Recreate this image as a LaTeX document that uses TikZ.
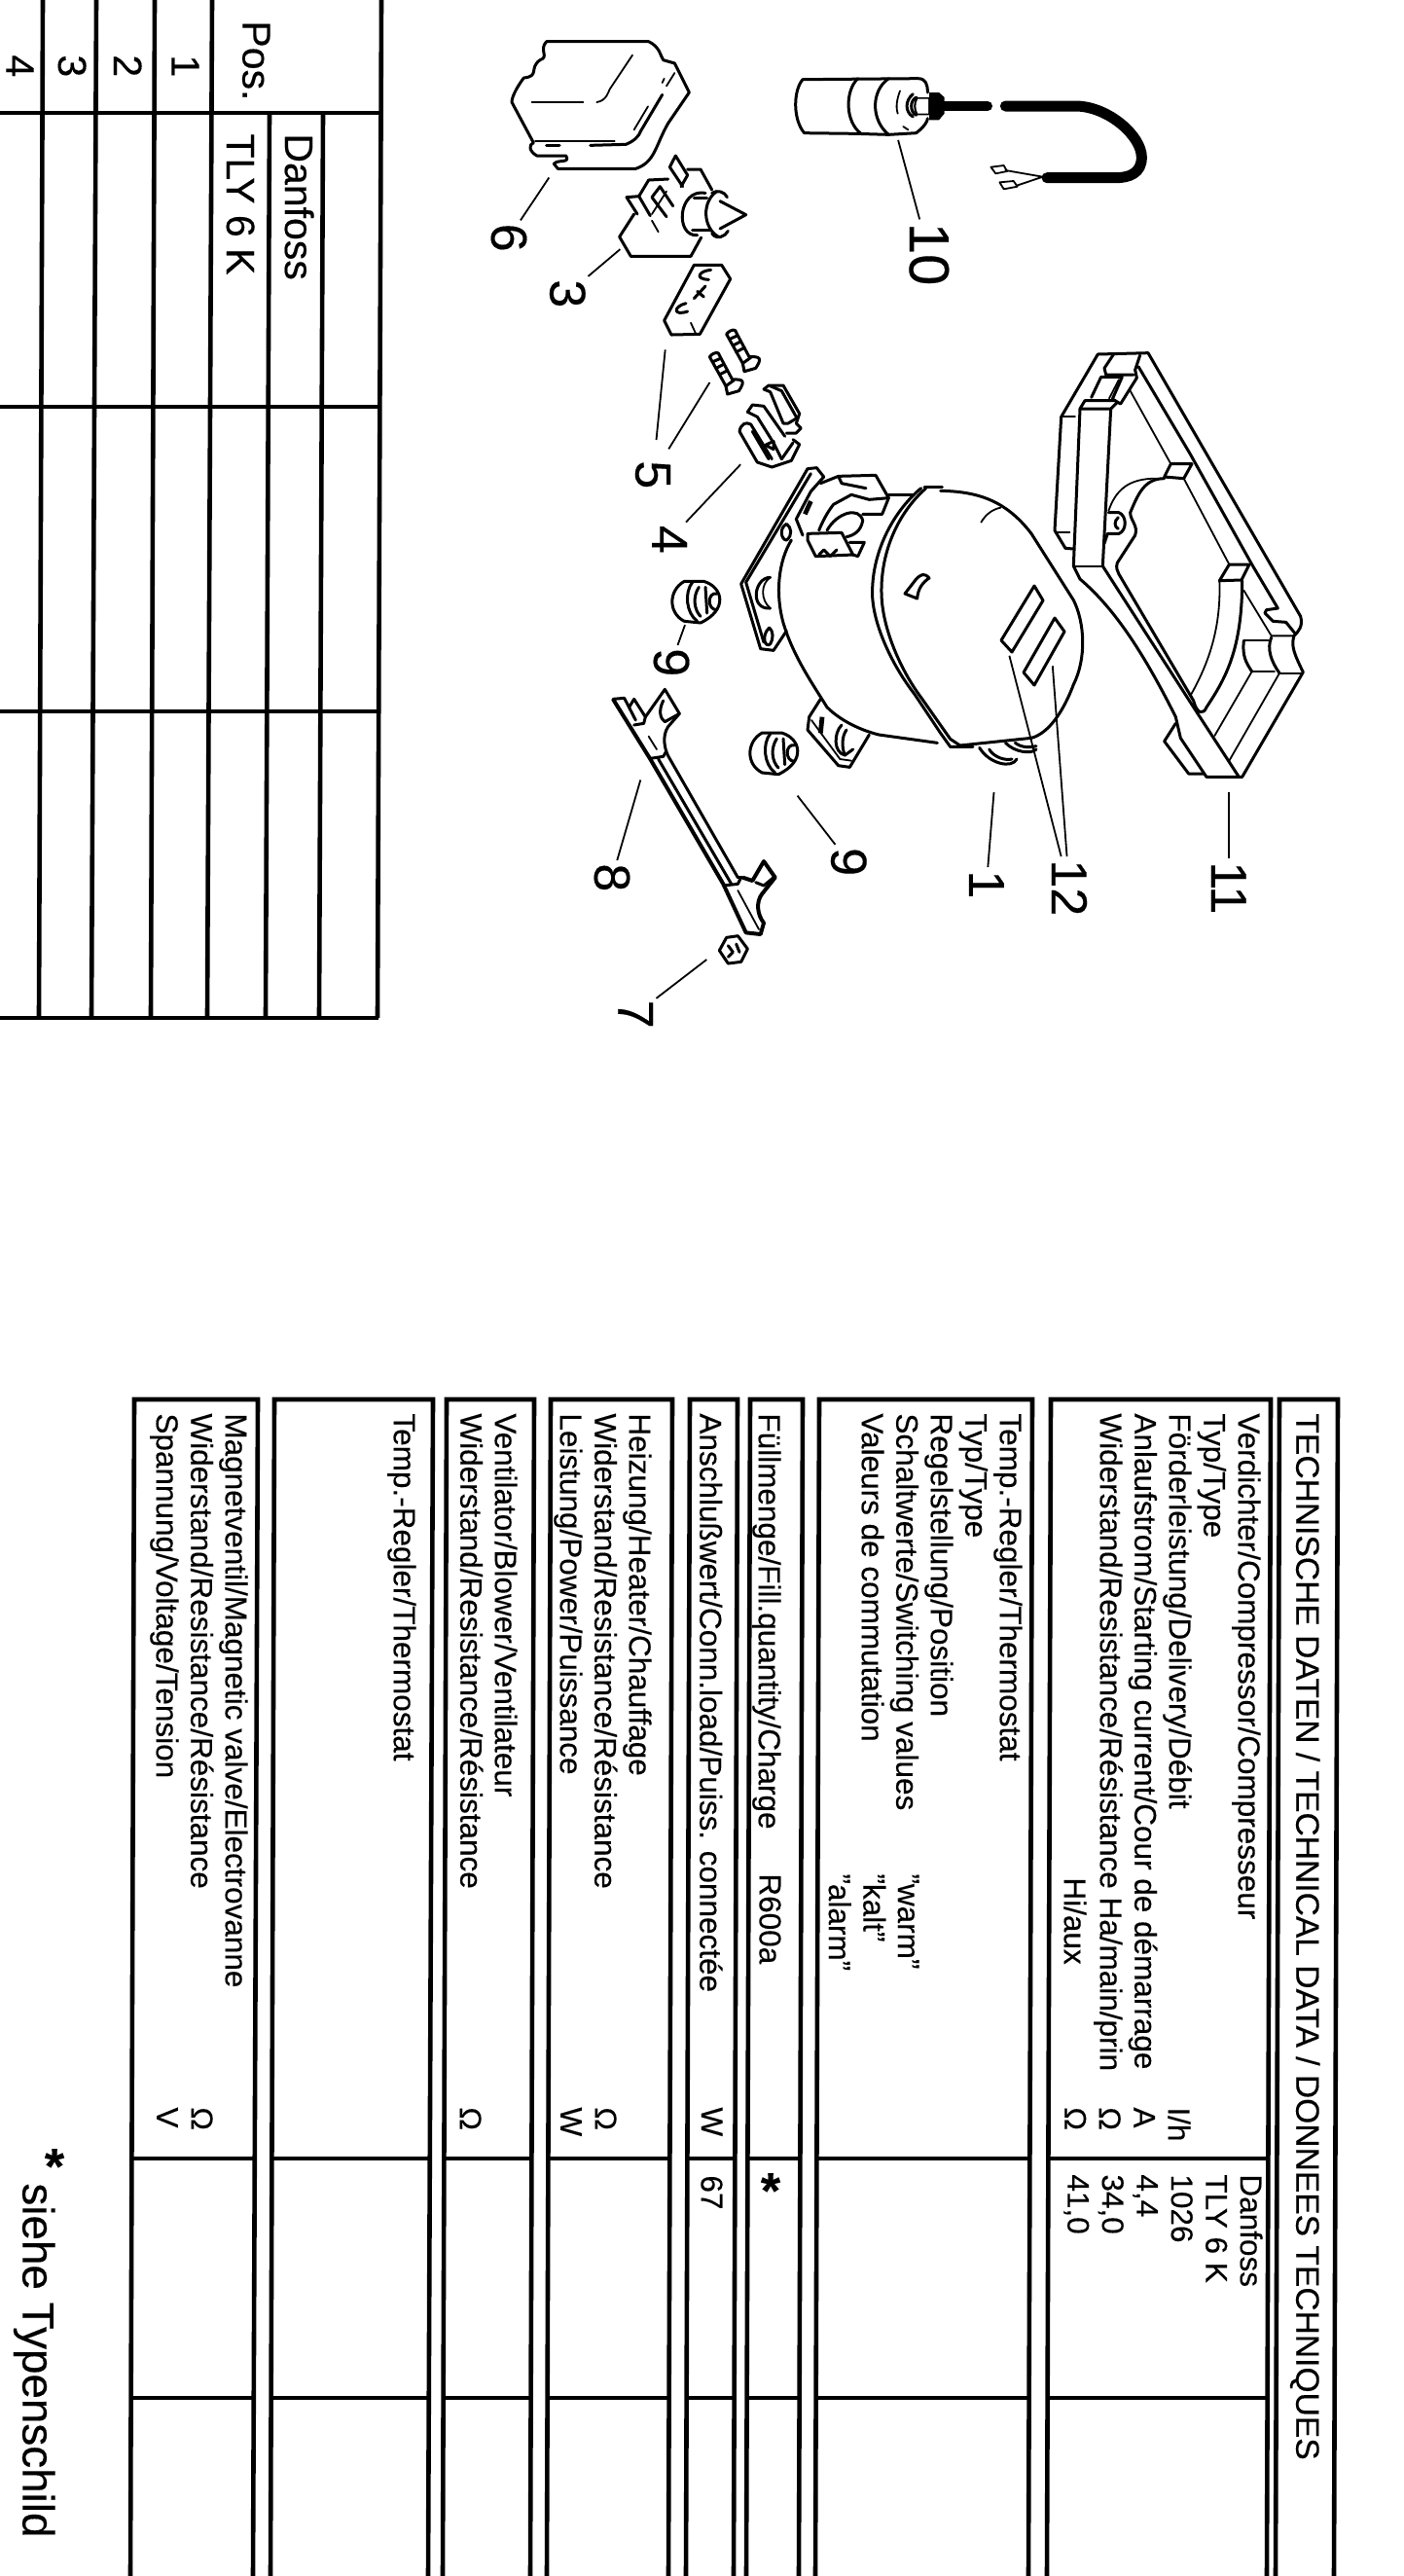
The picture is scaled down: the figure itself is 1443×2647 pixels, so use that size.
\documentclass[tikz,border=0pt]{standalone}
\usepackage{fontspec}
\setmainfont{Liberation Sans}[FakeBold=0.3]
\tikzstyle{rowline}=[line width=2.3pt]
\tikzstyle{crossline}=[line width=1.9pt]
\tikzstyle{partline}=[line width=1.5pt,line join=round,line cap=round]
\tikzstyle{thinline}=[line width=0.9pt,line join=round,line cap=round]
\tikzstyle{cable}=[line width=5.5pt,line cap=round]
\tikzstyle{leader}=[line width=0.9pt]
\tikzstyle{cropunit}=[x=0.16667pt,y=-0.16667pt]
\tikzstyle{celltext}=[rotate=-90,anchor=north west,align=left,inner sep=0pt,font=\fontsize{15.75}{17.75}\selectfont]
\tikzstyle{headtext}=[rotate=-90,anchor=north west,inner sep=0pt,font=\fontsize{16.8}{19}\selectfont]
\tikzstyle{postext}=[rotate=-90,anchor=north west,inner sep=0pt,font=\fontsize{20.5}{24}\selectfont]
\tikzstyle{partnum}=[rotate=-90,inner sep=1.5pt,font=\fontsize{26}{28}\selectfont]
\tikzstyle{starmark}=[inner sep=0pt,font=\bfseries\fontsize{26}{28}\selectfont]
\newcommand{\grommetshape}{
\draw[partline] (-35,-63) -- (25,-63) .. controls (85,-45) and (100,25) .. (15,65) -- (-35,60) .. controls (-85,35) and (-85,-35) .. (-35,-63) -- cycle;
\draw[partline] (-10,-60) .. controls (-35,-30) and (-30,35) .. (5,60);
\draw[partline] (10,-45) .. controls (-10,-15) and (-5,25) .. (15,45);
\draw[partline] (30,-45) -- (35,35);
\draw[partline] (65,-25) .. controls (35,-30) and (35,25) .. (65,25);
}
\newcommand{\screwshape}{
\draw[partline] (-15,10) .. controls (0,-8) and (15,-5) .. (15,5) -- (55,80) .. controls (90,78) and (95,85) .. (75,115) -- (40,125) -- (35,100) -- cycle;
\draw[partline] (-5,25) -- (18,15);
\draw[partline] (5,45) -- (28,33);
\draw[partline] (15,65) -- (40,52);
\draw[partline] (35,100) -- (60,82);
}

\begin{document}
\begin{tikzpicture}[x=0.5pt,y=-0.5pt]
\useasboundingbox (0,0) rectangle (1443,2647);

% position table
\draw[rowline] (40,1046) -- (44,0);
\draw[rowline] (94,1046) -- (99,0);
\draw[rowline] (155,1046) -- (159,0);
\draw[rowline] (213,1046) -- (218,0);
\draw[rowline] (273,1046) -- (277,116);
\draw[rowline] (328,1046) -- (332,116);
\draw[rowline] (388,1046) -- (392,0);
\draw[crossline] (0,116) -- (392,116);
\draw[crossline] (0,418) -- (391,418);
\draw[crossline] (0,731) -- (390,731);
\draw[crossline] (0,1046) -- (389,1046);
\node (pos) [postext] at (278,21) {Pos.};
\node (posa) [postext] at (205,56) {1};
\node (posb) [postext] at (146,56) {2};
\node (posc) [postext] at (89,56) {3};
\node (posd) [postext] at (35,56) {4};
\node (make) [postext] at (323,137) {Danfoss};
\node (type) [postext] at (262,137) {TLY 6 K};

% data table panels
\draw[rowline] (134,2650) -- (138,1438) -- (265,1438) -- (260,2650);
\draw[rowline] (278,2650) -- (282,1438) -- (445,1438) -- (440,2650);
\draw[rowline] (455,2650) -- (459,1438) -- (549,1438) -- (545,2650);
\draw[rowline] (562,2650) -- (566,1438) -- (691,1438) -- (687,2650);
\draw[rowline] (705,2650) -- (709,1438) -- (758,1438) -- (754,2650);
\draw[rowline] (767,2650) -- (771,1438) -- (825,1438) -- (821,2650);
\draw[rowline] (838,2650) -- (842,1438) -- (1061,1438) -- (1057,2650);
\draw[rowline] (1076,2650) -- (1080,1438) -- (1306,1438) -- (1302,2650);
\draw[rowline] (1311,2650) -- (1315,1438) -- (1375,1438) -- (1371,2650);
\draw[crossline] (136,2218) -- (262,2218);
\draw[crossline] (135,2464) -- (261,2464);
\draw[crossline] (280,2218) -- (442,2218);
\draw[crossline] (279,2464) -- (441,2464);
\draw[crossline] (457,2218) -- (547,2218);
\draw[crossline] (456,2464) -- (546,2464);
\draw[crossline] (564,2218) -- (689,2218);
\draw[crossline] (563,2464) -- (688,2464);
\draw[crossline] (707,2218) -- (756,2218);
\draw[crossline] (706,2464) -- (755,2464);
\draw[crossline] (769,2218) -- (823,2218);
\draw[crossline] (768,2464) -- (822,2464);
\draw[crossline] (840,2218) -- (1059,2218);
\draw[crossline] (839,2464) -- (1058,2464);
\draw[crossline] (1078,2218) -- (1304,2218);
\draw[crossline] (1077,2464) -- (1303,2464);

% data table text
\node (head) [headtext] at (1357,1452) {TECHNISCHE DATEN / TECHNICAL DATA / DONNEES TECHNIQUES};
\node (comp) [celltext] at (1296,1452) {Verdichter/Compressor/Compresseur\\Typ/Type\\Förderleistung/Delivery/Débit\\Anlaufstrom/Starting current/Cour de démarrage\\Widerstand/Resistance/Résistance Ha/main/prin};
\node (compaux) [celltext] at (1117,1929) {Hi/aux};
\node (compunit) [celltext] at (1224,2165) {I/h\\A\\Ω\\Ω};
\node (compval) [celltext] at (1298,2234) {Danfoss\\TLY 6 K\\1026\\4,4\\34,0\\41,0};
\node (stat) [celltext] at (1051,1452) {Temp.-Regler/Thermostat\\Typ/Type\\Regelstellung/Position\\Schaltwerte/Switching values\\Valeurs de commutation};
\node (statval) [celltext] at (945,1925) {"warm"\\"kalt"\\"alarm"};
\node (fill) [celltext] at (803,1452) {Füllmenge/Fill.quantity/Charge};
\node (gas) [celltext] at (803,1925) {R600a};
\node (gasval) [starmark] at (792,2251) {*};
\node (load) [celltext] at (743,1452) {Anschlußwert/Conn.load/Puiss. connectée};
\node (loadunit) [celltext] at (743,2165) {W};
\node (loadval) [celltext] at (743,2235) {67};
\node (heat) [celltext] at (670,1452) {Heizung/Heater/Chauffage\\Widerstand/Resistance/Résistance\\Leistung/Power/Puissance};
\node (heatunit) [celltext] at (634,2165) {Ω\\W};
\node (fan) [celltext] at (532,1452) {Ventilator/Blower/Ventilateur\\Widerstand/Resistance/Résistance};
\node (fanunit) [celltext] at (495,2165) {Ω};
\node (stattwo) [celltext] at (428,1452) {Temp.-Regler/Thermostat};
\node (valve) [celltext] at (255,1452) {Magnetventil/Magnetic valve/Electrovanne\\Widerstand/Resistance/Résistance\\Spannung/Voltage/Tension};
\node (valveunit) [celltext] at (219,2165) {Ω\\V};
\node (notestar) [starmark] at (56,2226) {*};
\node (note) [rotate=-90,anchor=north west,inner sep=0pt,font=\fontsize{22.9}{26}\selectfont] at (57,2243) {siehe Typenschild};

% capacitor
\begin{scope}[shift={(800,50)},cropunit]
\draw[partline] (460,135) .. controls (460,110) and (455,92) .. (430,92) -- (75,95) .. controls (45,130) and (45,220) .. (80,260) -- (240,262) -- (340,265) -- (425,260) .. controls (450,240) and (460,225) .. (460,215);
\draw[partline] (245,92) .. controls (205,130) and (205,225) .. (255,262);
\draw[partline] (340,92) .. controls (285,130) and (285,220) .. (340,265);
\draw[thinline] (375,130) .. controls (360,170) and (365,190) .. (368,200);
\draw[thinline] (385,240) -- (400,250);
\draw[partline] (415,140) .. controls (390,160) and (390,195) .. (415,210);
\draw[partline] (425,205) .. controls (405,195) and (405,160) .. (425,150);
\fill (465,135) -- (495,135) -- (512,150) -- (512,200) -- (495,220) -- (465,220) -- (465,205) -- (425,205) .. controls (415,190) and (415,165) .. (425,150) -- (465,150) -- cycle;
\fill[white] (430,155) -- (462,155) -- (462,200) -- (430,200) .. controls (422,185) and (422,170) .. (430,155) -- cycle;
\draw[line width=5pt,line cap=round] (505,177) -- (645,177);
\draw[cable] (700,177) -- (920,177) .. controls (1020,180) and (1120,270) .. (1120,335) .. controls (1120,385) and (1080,398) .. (1040,398) -- (828,398);
\draw[thinline] (815,395) -- (700,375);
\draw[thinline] (815,395) -- (735,422);
\draw[thinline] (655,365) -- (695,360) -- (705,378) -- (670,385) -- cycle;
\draw[thinline] (682,412) -- (725,408) -- (737,425) -- (695,433) -- cycle;
\end{scope}

% cover, thermostat, terminal block, screws
\begin{scope}[shift={(510,20)},cropunit]
\draw[partline] (155,68) -- (470,68) .. controls (505,85) and (505,110) .. (515,125) -- (550,135) -- (595,225) -- (530,320) .. controls (490,390) and (490,440) .. (430,460) -- (190,460) -- (178,445) .. controls (190,430) and (230,445) .. (215,420) -- (125,420) .. controls (100,405) and (100,385) .. (115,380) -- (48,255) .. controls (48,235) and (70,200) .. (85,180) .. controls (135,175) and (100,150) .. (135,125) .. controls (165,115) and (130,95) .. (155,68) -- cycle;
\draw[thinline] (110,255) -- (268,255);
\draw[thinline] (310,255) .. controls (340,250) and (345,225) .. (350,215) -- (420,110);
\draw[thinline] (120,375) -- (365,375);
\draw[partline] (155,388) -- (195,388);
\draw[partline] (290,388) -- (400,385) .. controls (425,375) and (440,360) .. (445,345) -- (512,232);
\draw[thinline] (425,340) -- (468,268);
\draw[thinline] (512,195) -- (518,182);
\draw[thinline] (525,205) -- (550,165);
\draw[partline] (425,600) -- (380,670) -- (415,730) -- (600,730) -- (632,672);
\draw[partline] (590,462) -- (630,462) -- (665,525);
\draw[partline] (435,600) -- (402,548) -- (440,545) -- (475,605);
\draw[partline] (440,545) -- (470,495) -- (530,492);
\draw[partline] (525,608) -- (480,548) -- (505,515) -- (545,575);
\draw[thinline] (480,620) -- (500,655);
\draw[thinline] (525,530) -- (480,600);
\draw[partline] (575,515) -- (535,455) -- (553,420) -- (590,480) -- (570,515);
\draw[partline] (645,535) .. controls (560,520) and (550,670) .. (620,665);
\draw[partline] (610,550) -- (650,550);
\draw[partline] (605,650) -- (660,650);
\draw[partline] (680,530) .. controls (635,560) and (635,640) .. (685,670);
\draw[partline] (665,535) .. controls (680,525) and (705,530) .. (712,548);
\draw[partline] (690,560) -- (770,602) -- (690,645);
\draw[partline] (665,660) .. controls (680,680) and (705,670) .. (715,652);
\draw[partline] (610,757) -- (695,757) -- (722,800) -- (628,970) -- (540,972) -- (518,928) -- cycle;
\draw[thinline] (600,935) -- (615,968);
\draw[partline] (585,875) .. controls (545,885) and (545,915) .. (590,900);
\draw[partline] (610,860) -- (645,822);
\draw[partline] (620,838) -- (640,855);
\draw[partline] (662,772) .. controls (625,775) and (610,800) .. (655,802);
\begin{scope}[shift={(725,960)}]
\screwshape
\end{scope}
\begin{scope}[shift={(673,1030)}]
\screwshape
\end{scope}
\end{scope}

% clamp
\begin{scope}[shift={(750,380)},cropunit]
\draw[partline] (30,190) .. controls (35,165) and (50,160) .. (65,168) -- (130,275);
\draw[partline] (30,190) -- (85,285) -- (130,300) -- (190,280) -- (215,230) -- (195,215);
\draw[partline] (70,190) -- (120,275);
\draw[partline] (55,130) -- (70,108) -- (105,112) -- (170,205);
\draw[partline] (55,130) -- (85,145) -- (135,225) -- (160,275);
\draw[partline] (105,60) -- (120,48) -- (165,48) -- (215,135) -- (205,165) -- (220,180) -- (205,195) -- (175,195);
\draw[partline] (105,60) -- (125,68) -- (165,165) -- (180,165) -- (205,150);
\draw[partline] (125,50) -- (160,65) -- (205,145);
\draw[partline] (110,232) -- (135,220) -- (135,245) -- cycle;
\draw[partline] (160,275) -- (195,225);
\end{scope}

% compressor
\begin{scope}[shift={(750,470)},cropunit]
\draw[partline] (650,103) .. controls (760,105) and (850,130) .. (930,235) -- (1060,440) .. controls (1095,510) and (1100,620) .. (1060,700) .. controls (1030,780) and (985,850) .. (930,865) -- (710,888);
\draw[partline] (600,92) -- (655,92);
\draw[partline] (605,95) .. controls (520,170) and (465,290) .. (468,420) .. controls (470,530) and (530,660) .. (590,740) -- (680,868) -- (710,888);
\draw[partline] (590,95) .. controls (500,170) and (435,300) .. (440,430) .. controls (445,520) and (500,640) .. (570,730) -- (650,850) -- (680,892) -- (750,892);
\draw[thinline] (775,200) .. controls (790,175) and (810,160) .. (835,155);
\draw[partline] (540,420) -- (575,375) .. controls (590,360) and (600,355) .. (615,372) .. controls (595,385) and (580,405) .. (578,435) -- cycle;
\draw[partline] (939,396) -- (966,441) -- (870,600) -- (837,564) -- cycle;
\draw[partline] (1002,495) -- (1032,537) -- (939,702) -- (906,663) -- cycle;
\draw[partline] (565,115) -- (490,115);
\draw[partline] (190,255) .. controls (150,320) and (140,420) .. (165,510) .. controls (195,610) and (250,690) .. (300,770) .. controls (340,810) and (400,840) .. (460,855) -- (640,880);
\draw[partline] (240,35) -- (35,390) -- (95,590) -- (135,595) -- (175,535);
\draw[partline] (240,35) -- (268,32) -- (290,60);
\draw[partline] (250,50) -- (50,385) -- (105,570);
\draw[partline] (125,370) .. controls (75,370) and (60,470) .. (125,465);
\draw[thinline] (125,370) .. controls (95,390) and (95,440) .. (125,465);
\draw[partline] (122,525) .. controls (95,550) and (110,590) .. (125,575) .. controls (135,560) and (135,535) .. (122,525);
\draw[partline] (335,58) -- (450,55) -- (490,125) -- (470,175) -- (410,175);
\draw[partline] (280,80) -- (335,58) -- (345,80) -- (420,95);
\draw[partline] (375,115) -- (430,130) -- (490,125);
\draw[partline] (375,115) -- (320,145) .. controls (300,170) and (285,200) .. (275,225);
\draw[partline] (300,225) .. controls (330,170) and (400,150) .. (410,195) .. controls (405,225) and (385,240) .. (360,245);
\draw[partline] (240,235) -- (345,232) -- (380,300) -- (265,305) -- (240,255) -- cycle;
\draw[partline] (370,262) -- (415,262) -- (395,305) -- (380,300);
\draw[partline] (275,300) -- (290,285) -- (310,305) -- (330,285);
\draw[partline] (290,60) -- (250,105) -- (205,190) -- (225,240);
\draw[line width=2.4pt] (250,135) -- (232,175);
\draw[partline] (175,205) .. controls (150,220) and (160,255) .. (175,255) .. controls (195,240) and (190,215) .. (175,205);
\draw[partline] (280,745) -- (245,800) -- (240,840) -- (335,950) -- (370,955) -- (430,855);
\draw[thinline] (252,810) -- (340,930) -- (375,935);
\draw[line width=2.4pt] (285,800) -- (280,850);
\draw[partline] (345,825) .. controls (320,850) and (320,910) .. (355,918) -- (380,900);
\draw[partline] (360,840) .. controls (345,860) and (345,895) .. (355,918);
\draw[partline] (770,895) .. controls (800,945) and (870,960) .. (885,930);
\draw[partline] (800,900) .. controls (815,925) and (850,935) .. (870,930);
\draw[partline] (850,880) .. controls (880,910) and (930,915) .. (945,900);
\draw[partline] (880,880) .. controls (900,895) and (925,895) .. (945,890);
\begin{scope}[shift={(135,912)}]
\grommetshape
\end{scope}
\end{scope}

% base tray
\begin{scope}[shift={(1060,350)},cropunit]
\draw[partline] (205,42) -- (360,38) -- (830,850) .. controls (838,880) and (825,895) .. (810,910) .. controls (800,940) and (810,965) .. (838,1022) -- (650,1345) -- (540,1345);
\draw[partline] (205,42) -- (92,235) -- (72,585) -- (105,640) -- (130,642);
\draw[thinline] (92,235) -- (135,235);
\draw[thinline] (80,592) -- (118,592);
\draw[partline] (255,40) -- (225,85) -- (230,105) -- (315,105);
\draw[partline] (335,45) -- (320,90) -- (325,115) -- (275,195) -- (250,180);
\draw[partline] (215,112) -- (280,112) -- (250,180);
\draw[partline] (215,112) -- (185,175);
\draw[thinline] (270,120) -- (240,178);
\draw[partline] (150,210) -- (165,185) -- (260,185);
\draw[partline] (150,210) -- (245,210) -- (265,190);
\draw[partline] (245,210) -- (220,695);
\draw[thinline] (130,695) -- (220,695);
\draw[partline] (150,210) -- (130,695);
\draw[partline] (330,80) -- (490,350) -- (680,690) -- (760,825) -- (725,830) -- (720,840) -- (745,865) -- (785,868) -- (815,905);
\draw[thinline] (305,155) -- (430,380);
\draw[partline] (430,380) -- (495,380) -- (470,425) -- (410,420) -- cycle;
\draw[thinline] (470,425) -- (610,690);
\draw[partline] (610,690) -- (672,690) -- (648,738) -- (580,740) -- cycle;
\draw[partline] (410,425) .. controls (350,425) and (330,470) .. (305,530) .. controls (305,555) and (330,570) .. (320,600) -- (265,685) .. controls (260,700) and (265,710) .. (270,720) -- (500,1110) .. controls (510,1150) and (530,1155) .. (540,1130) .. controls (600,1040) and (650,950) .. (650,740);
\draw[thinline] (385,425) .. controls (300,425) and (260,460) .. (238,525);
\draw[thinline] (580,740) .. controls (585,880) and (550,990) .. (490,1095);
\draw[partline] (238,530) -- (270,530) .. controls (295,540) and (295,585) .. (270,595) -- (235,595) -- (225,625);
\draw[partline] (268,545) .. controls (255,555) and (255,575) .. (268,580);
\draw[partline] (220,695) -- (500,1130) -- (640,1345);
\draw[partline] (130,695) -- (150,735) .. controls (250,820) and (340,950) .. (445,1160) -- (460,1225) -- (540,1345);
\draw[partline] (445,1180) -- (410,1235) -- (485,1335) -- (530,1335);
\draw[thinline] (655,770) -- (740,910) -- (810,910);
\draw[thinline] (655,925) -- (730,925);
\draw[partline] (655,925) .. controls (650,970) and (660,990) .. (680,1020);
\draw[thinline] (680,1020) -- (750,1020);
\draw[thinline] (680,1020) -- (565,1218);
\draw[partline] (740,915) .. controls (725,950) and (740,990) .. (765,1025);
\draw[thinline] (765,1025) -- (835,1025);
\draw[thinline] (765,1025) -- (610,1295);
\end{scope}

% rail, clip and rubber foot
\begin{scope}[shift={(620,580)},cropunit]
\begin{scope}[shift={(285,115)}]
\grommetshape
\end{scope}
\draw[line width=2pt,line join=round] (30,415) -- (145,600) -- (370,985) -- (440,1135) -- (485,1140) -- (495,1105) .. controls (475,1080) and (470,1040) .. (490,1015) -- (530,965) -- (495,915) -- (460,975) -- (430,965);
\draw[partline] (430,965) -- (415,965) -- (200,590) .. controls (190,570) and (180,530) .. (200,500) -- (235,460) -- (190,385) -- (130,470) -- (95,415) -- (80,440);
\draw[partline] (30,415) -- (65,412) -- (100,480);
\draw[partline] (170,600) -- (395,985);
\draw[partline] (145,598) -- (185,592) -- (195,575);
\draw[partline] (370,990) -- (415,985) -- (425,965);
\draw[partline] (470,980) -- (495,990) -- (525,965);
\draw[thinline] (415,1005) -- (480,1125);
\draw[thinline] (140,530) -- (165,570);
\draw[partline] (95,495) -- (125,490) -- (130,470);
\draw[partline] (185,420) .. controls (170,450) and (175,475) .. (190,485) -- (235,460);
\draw[partline] (358,1190) -- (380,1150) -- (415,1145) -- (445,1185) -- (425,1225) -- (385,1230) -- cycle;
\draw[partline] (385,1175) -- (400,1195) -- (385,1210);
\draw[partline] (410,1170) -- (420,1195);
\end{scope}

% part numbers and leader lines
\begin{scope}[shift={(225pt,0pt)},x=0.3175pt,y=-0.3509pt]
\coordinate (ptcap) at (745,205);
\coordinate (pttray) at (1280,1160);
\coordinate (ptwina) at (925,960);
\coordinate (ptwinb) at (995,975);
\coordinate (ptcomp) at (900,1160);
\coordinate (ptfootb) at (582,1165);
\coordinate (ptfoota) at (400,915);
\coordinate (ptrail) at (328,1142);
\coordinate (ptclip) at (435,1405);
\coordinate (ptclamp) at (490,680);
\coordinate (ptblock) at (368,512);
\coordinate (ptscrew) at (440,560);
\coordinate (ptstat) at (295,365);
\coordinate (ptcover) at (180,260);
\node (numcap) [partnum,font=\fontsize{29}{30}\selectfont] at (795,372) {10};
\node (numtray) [partnum] at (1280,1300) {11};
\node (numwin) [partnum] at (1022,1300) {12};
\node (numcomp) [partnum] at (888,1295) {1};
\node (numfootb) [partnum] at (665,1262) {9};
\node (numfoota) [partnum] at (378,970) {9};
\node (numrail) [partnum] at (282,1285) {8};
\node (numclip) [partnum] at (320,1485) {7};
\node (numclamp) [partnum] at (375,790) {4};
\node (numblock) [partnum] at (348,695) {5};
\node (numstat) [partnum] at (210,430) {3};
\node (numcover) [partnum] at (115,348) {6};
\draw[leader] (ptcap) -- (numcap);
\draw[leader] (pttray) -- (numtray);
\draw[leader] (ptwina) -- (numwin);
\draw[leader] (ptwinb) -- (numwin);
\draw[leader] (ptcomp) -- (numcomp);
\draw[leader] (ptfootb) -- (numfootb);
\draw[leader] (ptfoota) -- (numfoota);
\draw[leader] (ptrail) -- (numrail);
\draw[leader] (ptclip) -- (numclip);
\draw[leader] (ptclamp) -- (numclamp);
\draw[leader,shorten >=9pt] (ptblock) -- (numblock);
\draw[leader,shorten >=5pt] (ptscrew) -- (numblock);
\draw[leader] (ptstat) -- (numstat);
\draw[leader] (ptcover) -- (numcover);
\end{scope}
\end{tikzpicture}
\end{document}
